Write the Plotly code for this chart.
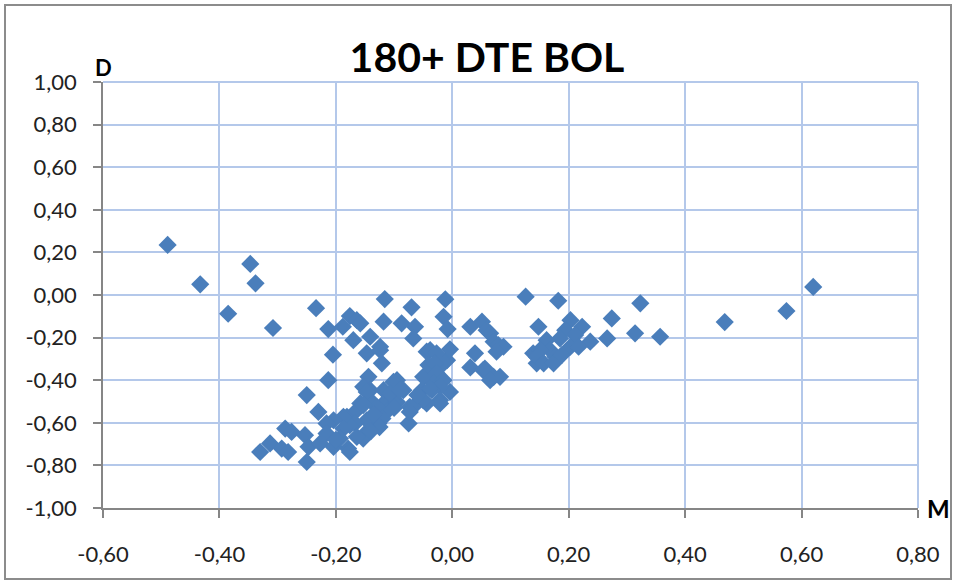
import plotly.graph_objects as go

title_text = "180+ DTE BOL"
x_label = "M"
y_label = "D"

m_values = [
    -0.489, -0.433, -0.385, -0.347, -0.338, -0.308, -0.234, -0.213, -0.205, -0.213, -0.250, -0.230,
    -0.116, -0.070, -0.176, -0.164, -0.158, -0.118, -0.087, -0.064, -0.067, -0.188, -0.170, -0.141,
    -0.124, -0.147, -0.124, -0.121, -0.144, -0.095, -0.101, -0.044, -0.012, -0.015, -0.008, -0.009,
    -0.050, -0.004, -0.038, -0.015, -0.041, -0.027, -0.030, -0.027,
    0.031, 0.051, 0.059, 0.065, 0.071, 0.079, 0.088, 0.076, 0.039, 0.031, 0.053, 0.056, 0.071, 0.082,
    0.065, 0.126, 0.148, 0.157, 0.139, 0.145, 0.182, 0.203, 0.223, 0.194, 0.211, 0.185, 0.237, 0.266,
    0.274, 0.323, 0.314, 0.357, 0.162, 0.168, 0.151, 0.145, 0.177, 0.203, 0.157, 0.174, 0.188, 0.217,
    0.468, 0.574, 0.620,
    -0.141, -0.084, -0.052, -0.032, -0.015, -0.004, -0.021, -0.035, -0.021, -0.021, -0.158, -0.118,
    -0.073, -0.044, -0.038, -0.050, -0.067, -0.075, -0.073, -0.095, -0.113, -0.127, -0.147, -0.153,
    -0.179, -0.181, -0.164, -0.141, -0.130, -0.147, -0.167, -0.118, -0.107, -0.090, -0.153, -0.147,
    -0.153, -0.176, -0.187, -0.187, -0.204, -0.216, -0.287, -0.276, -0.313, -0.330, -0.293, -0.282,
    -0.253, -0.247, -0.250, -0.227, -0.216, -0.204, -0.193, -0.176, -0.164, -0.200, -0.120, -0.100,
    -0.060, -0.135, -0.125, -0.140,
]
d_values = [
    0.235, 0.050, -0.088, 0.146, 0.055, -0.155, -0.062, -0.160, -0.280, -0.400, -0.470, -0.549,
    -0.019, -0.058, -0.099, -0.118, -0.133, -0.125, -0.133, -0.149, -0.204, -0.149, -0.212, -0.196,
    -0.243, -0.274, -0.259, -0.321, -0.384, -0.400, -0.408, -0.266, -0.020, -0.102, -0.160, -0.306,
    -0.384, -0.255, -0.259, -0.321, -0.329, -0.274, -0.321, -0.368,
    -0.149, -0.125, -0.165, -0.180, -0.219, -0.235, -0.243, -0.266, -0.274, -0.340, -0.353, -0.345,
    -0.384, -0.384, -0.400, -0.008, -0.149, -0.243, -0.274, -0.321, -0.027, -0.118, -0.149, -0.165,
    -0.188, -0.204, -0.219, -0.204, -0.110, -0.039, -0.180, -0.196, -0.212, -0.259, -0.259, -0.290,
    -0.290, -0.243, -0.321, -0.321, -0.282, -0.243,
    -0.127, -0.075, 0.038,
    -0.447, -0.447, -0.447, -0.415, -0.400, -0.455, -0.431, -0.447, -0.494, -0.509, -0.509, -0.509,
    -0.525, -0.509, -0.439, -0.494, -0.525, -0.603, -0.549, -0.502, -0.549, -0.603, -0.643, -0.674,
    -0.721, -0.572, -0.541, -0.494, -0.525, -0.588, -0.603, -0.447, -0.462, -0.447, -0.431, -0.455,
    -0.517, -0.611, -0.572, -0.627, -0.588, -0.603, -0.627, -0.643, -0.697, -0.737, -0.721, -0.737,
    -0.658, -0.713, -0.784, -0.697, -0.650, -0.713, -0.674, -0.737, -0.666, -0.680, -0.580, -0.530,
    -0.470, -0.560, -0.620, -0.640,
]

x_tickvals = [-0.6, -0.4, -0.2, 0.0, 0.2, 0.4, 0.6, 0.8]
x_ticktext = ["-0,60", "-0,40", "-0,20", "0,00", "0,20", "0,40", "0,60", "0,80"]
y_tickvals = [-1.0, -0.8, -0.6, -0.4, -0.2, 0.0, 0.2, 0.4, 0.6, 0.8, 1.0]
y_ticktext = ["-1,00", "-0,80", "-0,60", "-0,40", "-0,20", "0,00", "0,20", "0,40", "0,60", "0,80", "1,00"]

W, H = 959, 581
L, R, T, B = 103, 41, 82, 73
pw, ph = W - L - R, H - T - B

def px_to_paper_x(px):
    return (px - L) / pw

def px_to_paper_y(py):
    return (H - B - py) / ph

fig = go.Figure()
fig.add_trace(go.Scatter(
    x=m_values, y=d_values, mode="markers",
    marker=dict(symbol="diamond", size=14, color="#4a7ebb", line=dict(width=0)),
    showlegend=False,
))

font_family = "Lato, 'Open Sans', sans-serif"
grid_color = "#b4c8ea"
tick_size = 22

fig.update_layout(
    width=W, height=H,
    margin=dict(l=L, r=R, t=T, b=B),
    paper_bgcolor="white", plot_bgcolor="white",
    font=dict(family=font_family, size=tick_size, color="#222222"),
    title=dict(text="<b>" + title_text + "</b>", x=487 / W, xanchor="center",
               y=1 - 58 / H, yanchor="middle", yref="container",
               font=dict(family=font_family, size=41, color="#000000")),
    xaxis=dict(range=[-0.6, 0.8], tickvals=x_tickvals, ticktext=x_ticktext,
               showgrid=True, gridcolor=grid_color, gridwidth=2,
               showline=True, linecolor="#868686", linewidth=1.5,
               ticks="outside", ticklen=8, tickcolor="#868686", tickwidth=1.5,
               zeroline=False, ticklabelstandoff=18,
               tickfont=dict(size=tick_size, color="#222222")),
    yaxis=dict(range=[-1.0, 1.0], tickvals=y_tickvals, ticktext=y_ticktext,
               showgrid=True, gridcolor=grid_color, gridwidth=2,
               showline=True, linecolor="#868686", linewidth=1.5,
               ticks="outside", ticklen=8, tickcolor="#868686", tickwidth=1.5,
               zeroline=False, ticklabelstandoff=12,
               tickfont=dict(size=tick_size, color="#222222")),
)

# right and top grid borders of plot area
fig.add_shape(type="line", xref="paper", yref="paper", x0=1, x1=1, y0=0, y1=1,
              line=dict(color=grid_color, width=2), layer="below")
fig.add_shape(type="line", xref="paper", yref="paper", x0=0, x1=1, y0=1, y1=1,
              line=dict(color=grid_color, width=2), layer="below")

# outer chart frame
fig.add_shape(type="rect", xref="paper", yref="paper",
              x0=px_to_paper_x(5), x1=px_to_paper_x(951),
              y0=px_to_paper_y(579), y1=px_to_paper_y(5),
              line=dict(color="#8c8c8c", width=2), fillcolor="rgba(0,0,0,0)")

fig.add_annotation(text="<b>" + y_label + "</b>", xref="paper", yref="paper",
                   x=px_to_paper_x(103), y=px_to_paper_y(67), showarrow=False,
                   xanchor="center", yanchor="middle",
                   font=dict(family=font_family, size=22, color="#000000"))
fig.add_annotation(text="<b>" + x_label + "</b>", xref="paper", yref="paper",
                   x=px_to_paper_x(938), y=px_to_paper_y(509), showarrow=False,
                   xanchor="center", yanchor="middle",
                   font=dict(family=font_family, size=24, color="#000000"))

fig.write_html("out.html", config={"displayModeBar": False},
               post_script="document.body.style.margin='0';document.body.style.overflow='hidden';")
